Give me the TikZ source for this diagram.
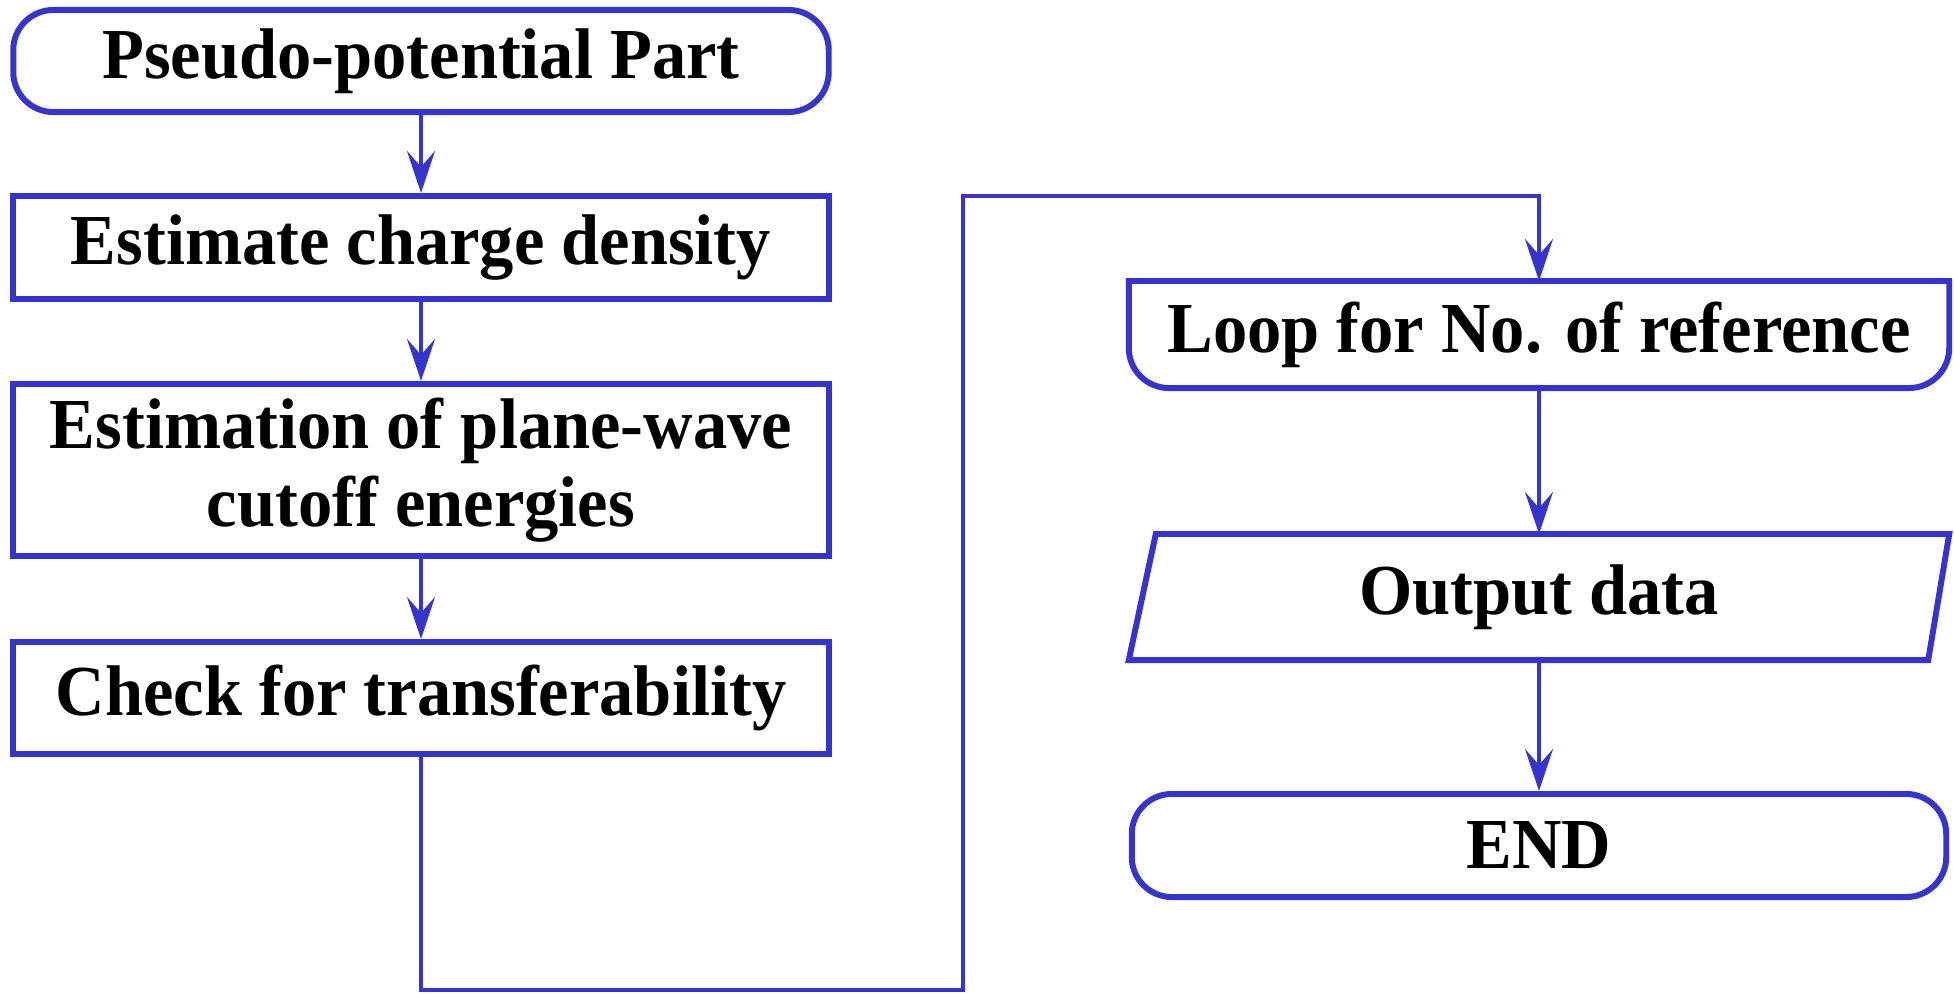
\documentclass[tikz,border=0pt]{standalone}
\usepackage{fontspec}
\setmainfont{Liberation Serif}[FakeStretch=0.955]
\usepackage{tikz}
\usetikzlibrary{arrows.meta,positioning}
\definecolor{flowblue}{RGB}{53,53,205}

\begin{document}
\begin{tikzpicture}[
  x=0.01cm, y=-0.01cm,
  box/.style={draw=flowblue, line width=1.7pt, minimum width=8.15cm, align=center,
    font=\fontsize{20.4}{22}\selectfont\bfseries, inner sep=0pt},
  term/.style={box, rounded corners=0.4cm},
  plain/.style={box, draw=none},
  arr/.style={-{Stealth[length=4.2mm, width=2.8mm, inset=1.6mm]}, draw=flowblue, line width=1.35pt},
  edge/.style={draw=flowblue, line width=1.7pt}
]
\useasboundingbox (0,0) rectangle (1954,993);

\node[term, minimum height=1.02cm] (pseudo) at (421,61) {Pseudo-potential Part};
\node[box, minimum height=1.03cm] (charge) at (421,247.5) {Estimate charge density};
\node[box, minimum height=1.72cm] (cutoff) at (421,470) {Estimation of plane-wave\\cutoff energies};
\node[box, minimum height=1.12cm] (check) at (421,698) {Check for transferability};

\node[plain, minimum width=8.14cm, minimum height=1.01cm] (loop) at (1539,334.5) {Loop for No. of reference};
\node[plain, minimum width=8.14cm, minimum height=1.20cm] (output) at (1539,597) {Output data};
\node[term, minimum width=8.14cm, minimum height=1.03cm] (finish) at (1539,845.5) {END};

% loop limit and data shapes
\draw[edge] (loop.north west) -- (loop.north east)
  -- ([yshift=0.4cm]loop.south east) arc[start angle=0, end angle=-90, radius=0.4cm]
  -- ([xshift=0.4cm]loop.south west) arc[start angle=270, end angle=180, radius=0.4cm]
  -- cycle;
\draw[edge] ([xshift=0.27cm]output.north west) -- (output.north east)
  -- ([xshift=-0.21cm]output.south east) -- (output.south west) -- cycle;

\coordinate (low) at (963,990);
\coordinate (high) at (963,196);

\draw[arr] (pseudo) -- (charge);
\draw[arr] (charge) -- (cutoff);
\draw[arr] (cutoff) -- (check);
\draw[arr] (check.south) -- (check.south |- low) -- (low) -- (high) -- (loop.north |- high) -- (loop.north);
\draw[arr] (loop) -- (output);
\draw[arr] (output) -- (finish);
\end{tikzpicture}
\end{document}
